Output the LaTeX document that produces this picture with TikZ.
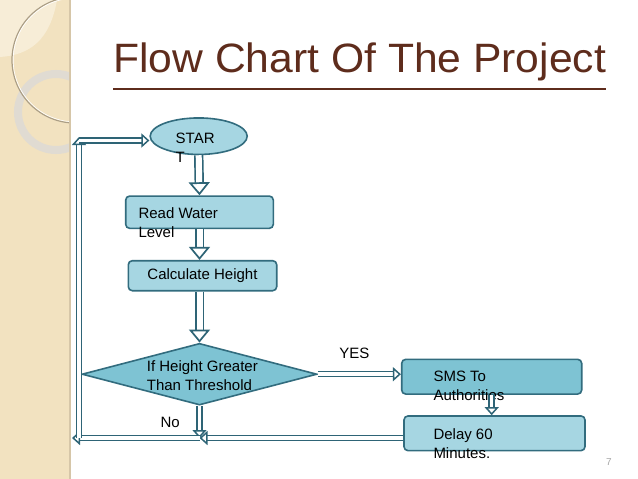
\documentclass[tikz,border=0pt]{standalone}
\usepackage{fontspec}
\setmainfont{Liberation Sans}
\newfontfamily\titlefont[FakeStretch=1.04]{Liberation Sans}
\usetikzlibrary{shapes.geometric,arrows.meta,positioning,calc}

\definecolor{bandc}{RGB}{242,226,192}
\definecolor{bandlite}{RGB}{247,237,215}
\definecolor{bandedge}{RGB}{214,198,168}
\definecolor{ringc}{RGB}{224,219,210}
\definecolor{titlec}{RGB}{94,44,28}
\definecolor{edgec}{RGB}{50,108,126}
\definecolor{arrc}{RGB}{46,100,118}
\definecolor{litefill}{RGB}{166,214,226}
\definecolor{darkfill}{RGB}{126,195,211}

\begin{document}
\begin{tikzpicture}[x=1pt,y=-1pt,node distance=40pt,
    base node/.style={draw=edgec,line width=1.6pt,fill=litefill,inner sep=0pt},
    box node/.style={base node,rectangle,rounded corners=4pt},
    txt/.style={anchor=north west,inner sep=0pt,align=left,font=\fontsize{15}{19}\selectfont},
    lbl/.style={inner sep=0pt,font=\fontsize{15}{19}\selectfont},
    bigarr/.style={draw=arrc,line width=1.7pt,double=white,double distance=6pt,
      -{Triangle[open,length=13pt,width=21pt,line width=1.7pt,fill=white]}},
    smallarr/.style={draw=arrc,line width=1.5pt,double=white,double distance=3.5pt,
      -{Triangle[open,length=8pt,width=14pt,line width=1.5pt,fill=white]}}]

  \useasboundingbox (0,0) rectangle (638,479);
  \fill[white] (0,0) rectangle (638,479);

  % side band
  \fill[bandc] (0,0) rectangle (70,479);
  \fill[bandlite] (0,0) -- (57,0) .. controls (50,40) and (30,55) .. (0,57) -- cycle;
  \begin{scope}
    \clip (0,0) rectangle (70,479);
    \draw[ringc,line width=8pt] (56,112) circle (38pt);
    \draw[bandedge!80!black,line width=1.2pt] (75,60) circle (63pt);
    \draw[white,line width=0.6pt] (75,60) circle (61.8pt);
  \end{scope}
  \draw[bandedge,line width=1.5pt] (70,0) -- (70,479);

  % title
  \node[anchor=base west,inner sep=0pt,text=titlec,font=\titlefont\fontsize{41}{46}\selectfont]
    (title) at (113,72) {Flow Chart Of The Project};
  \draw[titlec,line width=2.8pt] ([yshift=-17pt]title.base west) -- ([yshift=-17pt]title.base east);

  % shapes
  \node[base node,ellipse,minimum width=97pt,minimum height=36.5pt] (start) at (198.7,136.2) {};
  \node[box node,minimum width=147.6pt,minimum height=32.3pt] (read) at (199.5,212.2) {};
  \node[box node,minimum width=148.4pt,minimum height=30pt,font=\fontsize{15}{19}\selectfont]
    (calc) at (202.5,275.7) {Calculate Height};
  \node[base node,diamond,fill=darkfill,minimum width=235pt,minimum height=61.7pt] (dec) at (199.5,374.2) {};
  \node[box node,fill=darkfill,minimum width=180pt,minimum height=34.7pt] (sms) at (491.7,376.7) {};
  \node[box node,minimum width=181pt,minimum height=34.7pt] (delay) at (494.5,433.3) {};

  % texts
  \node[txt] (starttxt) at (175.5,133.3) {STAR\\T};
  \node[txt] (readtxt) at (138.3,207.3) {Read Water\\Level};
  \node[txt] (dectxt) at (146.7,360) {If Height Greater\\Than Threshold};
  \node[txt] (smstxt) at (433.3,370.7) {SMS To\\Authorities};
  \node[txt] (delaytxt) at (433.3,428.3) {Delay 60\\Minutes.};
  \node[inner sep=0pt,text=black!35,font=\fontsize{10}{12}\selectfont] (pgno) at (609,462) {7};

  % loop points
  \coordinate (mrg) at (dec.south |- 0,438);
  \coordinate (lbt) at (72,438);
  \coordinate (lb) at (79,438);
  \coordinate (lt) at (79,137);
  \coordinate (ls) at (79,140.5);

  \path (start.south) edge[bigarr] (read.north)
        (read.south) edge[bigarr] (read.south |- calc.north)
        (calc.south -| dec.north) edge[bigarr] (dec.north)
        (dec.east) edge[smallarr] node[lbl,above=15pt,pos=.44] {YES} (dec.east -| sms.west)
        (sms.south) edge[smallarr] (sms.south |- delay.north)
        (dec.south) edge[smallarr] node[lbl,left=19pt,pos=.5] {No} (mrg)
        (delay.west |- mrg) edge[smallarr] (mrg)
        (mrg) edge[smallarr] (lbt)
        (lb) edge[smallarr] (lt)
        (ls) edge[smallarr] (ls -| start.west);

\end{tikzpicture}
\end{document}
